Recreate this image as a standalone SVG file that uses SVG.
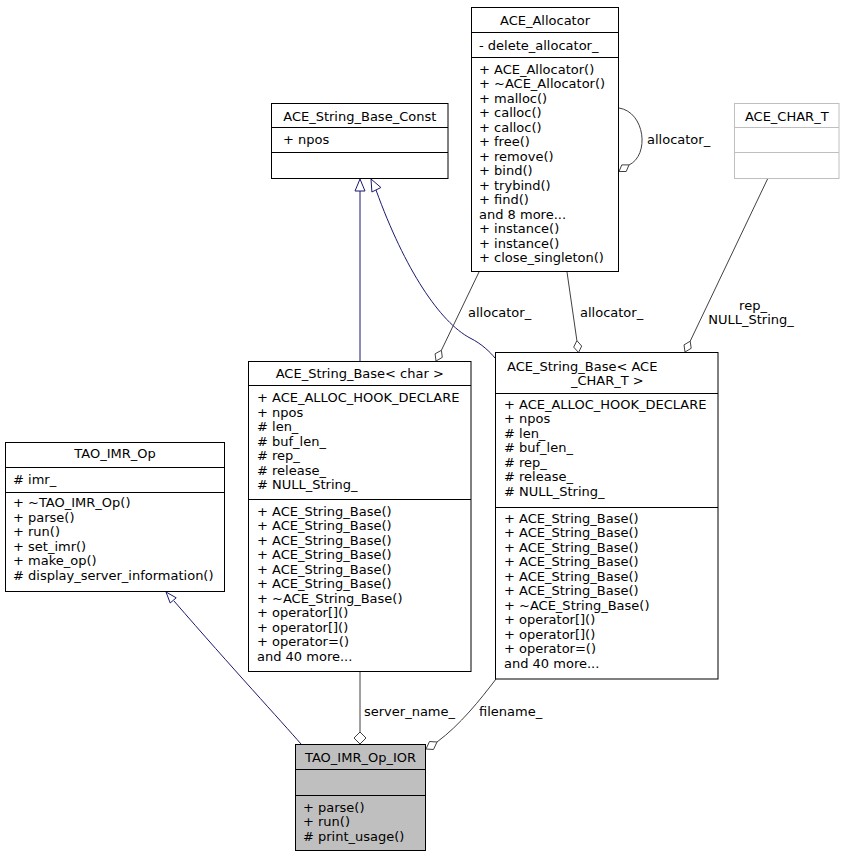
<svg xmlns="http://www.w3.org/2000/svg" width="844" height="856" viewBox="0 0 844 856">
<style>
.box{fill:#ffffff;stroke:#000000;stroke-width:1}
.boxg{fill:#ffffff;stroke:#bfbfbf;stroke-width:1}
.boxh{fill:#bfbfbf;stroke:#000000;stroke-width:1}
.div{stroke:#000000;stroke-width:1}
.divg{stroke:#bfbfbf;stroke-width:1}
text{font-family:"DejaVu Sans","Liberation Sans",sans-serif;font-size:13px;fill:#000000}
.c{text-anchor:middle}
.inh{fill:none;stroke:#191970;stroke-width:1}
.inhh{fill:#ffffff;stroke:#191970;stroke-width:1}
.use{fill:none;stroke:#404040;stroke-width:1}
.useh{fill:#ffffff;stroke:#404040;stroke-width:1}
</style>
<rect width="844" height="856" fill="#ffffff"/>

<g id="connectors">
  <!-- TAO_IMR_Op -> TAO_IMR_Op_IOR -->
  <path class="inh" d="M301,744 C282,722 232,668 174,601"/>
  <polygon class="inhh" points="166,592 176.2,597.8 170.2,603"/>
  <!-- ACE_String_Base_Const -> ACE_String_Base<char> -->
  <path class="inh" d="M360,361 L360,191"/>
  <polygon class="inhh" points="360,179 355,191 365,191"/>
  <!-- ACE_String_Base_Const -> ACE_String_Base<ACE_CHAR_T> -->
  <path class="inh" d="M376,190 C405,270 440,322 470,338 C482,344 490,352 495,358"/>
  <polygon class="inhh" points="371,179 380.9,187.5 371.9,192"/>
  <!-- ACE_Allocator -> ACE_String_Base<char> -->
  <path class="use" d="M479,272 L441.4,350.3"/>
  <polygon class="useh" points="436,361 442.3,357.4 441.4,350.3 435.1,353.8"/>
  <text x="468" y="316.5">allocator_</text>
  <!-- ACE_Allocator -> ACE_String_Base<ACE_CHAR_T> -->
  <path class="use" d="M567,272 L576.9,340.6"/>
  <polygon class="useh" points="578.5,352.5 581.7,346.1 576.9,340.6 573.7,347.1"/>
  <text x="580" y="316.5">allocator_</text>
  <!-- ACE_CHAR_T -> ACE_String_Base<ACE_CHAR_T> -->
  <path class="use" d="M768,178 L690.2,341.2"/>
  <polygon class="useh" points="685,352 691.2,348.3 690.2,341.2 684,344.9"/>
  <text class="c" x="753" y="309.5">rep_</text>
  <text class="c" x="751" y="323.5">NULL_String_</text>
  <!-- ACE_Allocator self -->
  <path class="use" d="M619,108 C645,112 650,155 629,165"/>
  <polygon class="useh" points="619,171.5 626.2,171.5 629,164.9 621.8,164.9"/>
  <text x="647" y="143.5">allocator_</text>
  <!-- ACE_String_Base<char> -> TAO_IMR_Op_IOR -->
  <path class="use" d="M360,671 L360,732"/>
  <polygon class="useh" points="360,744 366,738 360,732 354,738"/>
  <text x="364" y="716">server_name_</text>
  <!-- ACE_String_Base<ACE_CHAR_T> -> TAO_IMR_Op_IOR -->
  <path class="use" d="M496,679 C480,700 460,725 437,742"/>
  <polygon class="useh" points="426,749 433.5,749.5 437,742 429.5,741.5"/>
  <text x="479" y="716">filename_</text>
</g>

<g id="node-ACE_Allocator">
  <rect class="box" x="471.5" y="7.5" width="147" height="264"/>
  <text class="c" x="545" y="24.5">ACE_Allocator</text>
  <line class="div" x1="471.5" y1="32.5" x2="618.5" y2="32.5"/>
  <text x="479" y="49.5">- delete_allocator_</text>
  <line class="div" x1="471.5" y1="57.5" x2="618.5" y2="57.5"/>
  <text x="479" y="73.5">+ ACE_Allocator()</text>
  <text x="479" y="88">+ ~ACE_Allocator()</text>
  <text x="479" y="102.5">+ malloc()</text>
  <text x="479" y="117">+ calloc()</text>
  <text x="479" y="131.5">+ calloc()</text>
  <text x="479" y="146">+ free()</text>
  <text x="479" y="160.5">+ remove()</text>
  <text x="479" y="175">+ bind()</text>
  <text x="479" y="189.5">+ trybind()</text>
  <text x="479" y="204">+ find()</text>
  <text x="479" y="218.5">and 8 more...</text>
  <text x="479" y="233">+ instance()</text>
  <text x="479" y="247.5">+ instance()</text>
  <text x="479" y="262">+ close_singleton()</text>
</g>

<g id="node-ACE_String_Base_Const">
  <rect class="box" x="271.5" y="103.5" width="176.5" height="75"/>
  <text class="c" x="359.75" y="120.5">ACE_String_Base_Const</text>
  <line class="div" x1="271.5" y1="127.5" x2="448" y2="127.5"/>
  <text x="283" y="144">+ npos</text>
  <line class="div" x1="271.5" y1="152.5" x2="448" y2="152.5"/>
</g>

<g id="node-ACE_CHAR_T">
  <rect class="boxg" x="734.5" y="103.5" width="104.5" height="75"/>
  <text class="c" x="786.75" y="120.5">ACE_CHAR_T</text>
  <line class="divg" x1="734.5" y1="127.5" x2="839" y2="127.5"/>
  <line class="divg" x1="734.5" y1="152.5" x2="839" y2="152.5"/>
</g>

<g id="node-ACE_String_Base_char">
  <rect class="box" x="248.5" y="361.5" width="222.5" height="310"/>
  <text class="c" x="359.75" y="377.5">ACE_String_Base&lt; char &gt;</text>
  <line class="div" x1="248.5" y1="385.5" x2="471" y2="385.5"/>
  <text x="257" y="402">+ ACE_ALLOC_HOOK_DECLARE</text>
  <text x="257" y="416.5">+ npos</text>
  <text x="257" y="431">#  len_</text>
  <text x="257" y="445.5">#  buf_len_</text>
  <text x="257" y="460">#  rep_</text>
  <text x="257" y="474.5">#  release_</text>
  <text x="257" y="489">#  NULL_String_</text>
  <line class="div" x1="248.5" y1="499.5" x2="471" y2="499.5"/>
  <text x="257" y="515.5">+ ACE_String_Base()</text>
  <text x="257" y="530">+ ACE_String_Base()</text>
  <text x="257" y="544.5">+ ACE_String_Base()</text>
  <text x="257" y="559">+ ACE_String_Base()</text>
  <text x="257" y="573.5">+ ACE_String_Base()</text>
  <text x="257" y="588">+ ACE_String_Base()</text>
  <text x="257" y="602.5">+ ~ACE_String_Base()</text>
  <text x="257" y="617">+ operator[]()</text>
  <text x="257" y="631.5">+ operator[]()</text>
  <text x="257" y="646">+ operator=()</text>
  <text x="257" y="660.5">and 40 more...</text>
</g>

<g id="node-ACE_String_Base_ACE_CHAR_T">
  <rect class="box" x="495.5" y="352.5" width="222.5" height="326.5"/>
  <text x="507" y="370.5">ACE_String_Base&lt; ACE</text>
  <text x="571" y="384.5">_CHAR_T &gt;</text>
  <line class="div" x1="495.5" y1="393.5" x2="718" y2="393.5"/>
  <text x="504" y="408.5">+ ACE_ALLOC_HOOK_DECLARE</text>
  <text x="504" y="423">+ npos</text>
  <text x="504" y="437.5">#  len_</text>
  <text x="504" y="452">#  buf_len_</text>
  <text x="504" y="466.5">#  rep_</text>
  <text x="504" y="481">#  release_</text>
  <text x="504" y="495.5">#  NULL_String_</text>
  <line class="div" x1="495.5" y1="507.5" x2="718" y2="507.5"/>
  <text x="504" y="522.5">+ ACE_String_Base()</text>
  <text x="504" y="537">+ ACE_String_Base()</text>
  <text x="504" y="551.5">+ ACE_String_Base()</text>
  <text x="504" y="566">+ ACE_String_Base()</text>
  <text x="504" y="580.5">+ ACE_String_Base()</text>
  <text x="504" y="595">+ ACE_String_Base()</text>
  <text x="504" y="609.5">+ ~ACE_String_Base()</text>
  <text x="504" y="624">+ operator[]()</text>
  <text x="504" y="638.5">+ operator[]()</text>
  <text x="504" y="653">+ operator=()</text>
  <text x="504" y="667.5">and 40 more...</text>
</g>

<g id="node-TAO_IMR_Op">
  <rect class="box" x="5.5" y="442.5" width="219" height="149"/>
  <text class="c" x="115" y="457.5">TAO_IMR_Op</text>
  <line class="div" x1="5.5" y1="467.5" x2="224.5" y2="467.5"/>
  <text x="13" y="483.5">#  imr_</text>
  <line class="div" x1="5.5" y1="492.5" x2="224.5" y2="492.5"/>
  <text x="13" y="507">+ ~TAO_IMR_Op()</text>
  <text x="13" y="521.5">+ parse()</text>
  <text x="13" y="536">+ run()</text>
  <text x="13" y="550.5">+ set_imr()</text>
  <text x="13" y="565">+ make_op()</text>
  <text x="13" y="579.5">#  display_server_information()</text>
</g>

<g id="node-TAO_IMR_Op_IOR">
  <rect class="boxh" x="295.5" y="744.5" width="130" height="106"/>
  <text class="c" x="360.5" y="761.5">TAO_IMR_Op_IOR</text>
  <line class="div" x1="295.5" y1="769.5" x2="425.5" y2="769.5"/>
  <line class="div" x1="295.5" y1="795.5" x2="425.5" y2="795.5"/>
  <text x="303" y="811.5">+ parse()</text>
  <text x="303" y="826">+ run()</text>
  <text x="303" y="840.5">#  print_usage()</text>
</g>
</svg>
